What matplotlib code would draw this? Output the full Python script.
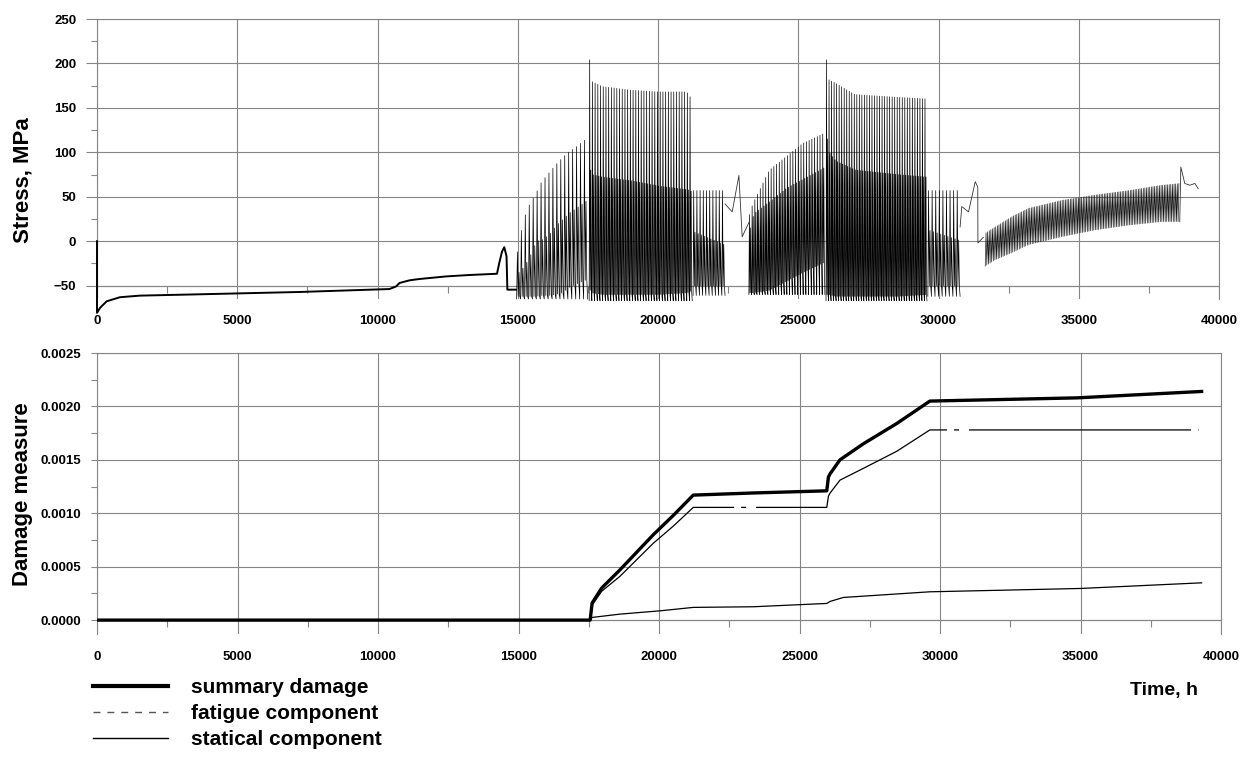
import numpy as np
import matplotlib
matplotlib.use("Agg")
import matplotlib.pyplot as plt
from matplotlib.lines import Line2D
from matplotlib.ticker import MultipleLocator, FormatStrFormatter

plt.rcParams['font.family'] = ['Liberation Sans', 'DejaVu Sans']
plt.rcParams['font.weight'] = 'bold'

# ---------------- stress history (time h, stress MPa) ----------------
# quiet part before the cycling starts
quiet_t = [0, 0, 107, 344, 819, 1530, 3666, 7225, 10428, 10665, 10784, 11140,
           11495, 12445, 13275, 14260, 14340, 14440, 14520, 14600, 14630, 14935]
quiet_s = [0, -80.6, -75, -67.6, -63, -61.2, -59.7, -57.1, -53.8, -50.8, -47, -44,
           -42.5, -39.6, -38, -36.6, -24.6, -11.6, -6.7, -17, -54.5, -54.5]

# cycling blocks, envelopes read at a few times inside each block
A_t = [14960, 15170, 15385, 15590, 15825, 16063, 16300, 16540, 16775, 17050, 17490]
A_peak = [-12, 24, 41, 52, 67, 76, 85, 93, 100, 106, 117]
A_minor = [-35, -28, -15, 0, 2, 8, 18, 25, 32, 38, 48]
A_low = [-62, -62, -62, -62, -61, -61, -60, -58, -52, -48, -42]

B_t = [17545, 17600, 18000, 19000, 20000, 21000, 21220]
B_peak = [204, 180, 174, 170, 168, 168, 158]
B_minor = [80, 75, 72, 68, 62, 58, 55]
B_low = [-55, -58, -60, -60, -60, -58, -55]

C_t = [21250, 22390]
C_peak = [57, 57]
C_minor = [10, -5]
C_low = [-50, -50]

D_t = [23240, 23360, 23950, 24545, 25140, 25950]
D_peak = [30, 42, 80, 95, 110, 122]
D_minor = [15, 31, 45, 60, 70, 84]
D_low = [-58, -58, -55, -45, -35, -23]

E_t = [25990, 26050, 26300, 27000, 28500, 29590]
E_peak = [204, 182, 178, 165, 162, 160]
E_minor = [115, 100, 90, 80, 75, 72]
E_low = [-60, -60, -62, -62, -62, -60]

F_t = [29620, 30770]
F_peak = [57, 57]
F_minor = [12, 0]
F_low = [-50, -50]

# deepest trough and number of start-stop cycles in blocks A..F
block_deep = [-65, -67, -61, -60, -67, -62]
block_cycles = [18, 38, 10, 28, 40, 9]

# last block: band between lower and upper envelope
G_t = [31665, 32020, 32610, 33205, 34390, 35580, 36765, 37950, 38600]
G_upper = [9, 16, 27.5, 37, 46, 52, 57, 63, 65]
G_lower = [-28, -21, -13, -4, 5, 12.6, 18, 22, 22]
G_cycles = 120

# shut-down transitions between blocks
CD_t = [22390, 22645, 22884, 23001, 23240]
CD_s = [42, 33, 74, 5, 21]
FG_t = [30770, 30830, 31070, 31310, 31400, 31405, 31600]
FG_s = [16, 39, 33, 67, 61, -2, 4.5]
tail_t = [38600, 38640, 38780, 38960, 39140, 39260]
tail_s = [22, 83.5, 65, 63, 65, 59]

# ---------------- damage (time h, damage measure) ----------------
sum_t = [0, 17550, 17620, 17960, 18610, 19800, 20510, 21220, 23360, 25970,
         26030, 26090, 26440, 27270, 28460, 29640, 34870, 39310]
sum_d = [0, 0, 0.00016, 0.0003, 0.00047, 0.0008, 0.00098, 0.00117, 0.00119,
         0.00121, 0.00134, 0.00137, 0.0015, 0.00165, 0.00184, 0.00205, 0.00208, 0.00214]

fat_t = [0, 17550, 17620, 17960, 18610, 19800, 20510, 21220, 25970, 26030,
         26090, 26440, 27270, 28460, 29640, 39200]
fat_d = [0, 0, 0.00014, 0.00027, 0.00041, 0.00072, 0.00088, 0.001055, 0.001055,
         0.00116, 0.00119, 0.00131, 0.00142, 0.00158, 0.00178, 0.00178]

stat_t = [0, 17550, 17620, 18610, 20040, 21220, 23360, 25970, 26090, 26560,
          29640, 34980, 39310]
stat_d = [0, 0, 0.000025, 0.000056, 0.000087, 0.000119, 0.000125, 0.000156,
          0.000175, 0.000212, 0.000265, 0.000296, 0.000349]


def build_block(knots, peak, minor, low, deep, n):
    # each cycle: deep trough -> peak -> partial unload -> small cycle -> down
    ts, ss = [], []
    edges = np.linspace(knots[0], knots[-1], n + 1)
    for a, b in zip(edges[:-1], edges[1:]):
        step = (b - a) / 5
        p = np.interp(a, knots, peak)
        m = np.interp(a, knots, minor)
        lo = np.interp(a, knots, low)
        ts += [a + k * step for k in range(5)]
        ss += [deep, p, lo, m, lo]
    ts.append(knots[-1])
    ss.append(deep)
    return ts, ss


def build_band(knots, upper, lower, n):
    ts, ss = [], []
    edges = np.linspace(knots[0], knots[-1], n + 1)
    for a, b in zip(edges[:-1], edges[1:]):
        ts += [a, (a + b) / 2]
        ss += [np.interp(a, knots, lower), np.interp((a + b) / 2, knots, upper)]
    return ts, ss


fig = plt.figure(figsize=(12.45, 7.62), dpi=100)
ax1 = fig.add_axes([97 / 1245, 1 - 299 / 762, 1122 / 1245, 280 / 762])
ax2 = fig.add_axes([97 / 1245, 1 - 634 / 762, 1124 / 1245, 281 / 762])

grid_col = '#858585'

# ---- top: stress
ax1.plot(quiet_t, quiet_s, color='black', lw=1.4, clip_on=False, zorder=3)
blocks = [(A_t, A_peak, A_minor, A_low), (B_t, B_peak, B_minor, B_low),
          (C_t, C_peak, C_minor, C_low), (D_t, D_peak, D_minor, D_low),
          (E_t, E_peak, E_minor, E_low), (F_t, F_peak, F_minor, F_low)]
for (kt, pk, mn, lo), deep, n in zip(blocks, block_deep, block_cycles):
    ts, ss = build_block(kt, pk, mn, lo, deep, n)
    ax1.plot(ts, ss, color='black', lw=0.5, clip_on=False, zorder=3)
gts, gss = build_band(G_t, G_upper, G_lower, G_cycles)
ax1.plot(gts, gss, color='#111111', lw=0.45, zorder=3)
for tt, sv in [(CD_t, CD_s), (FG_t, FG_s), (tail_t, tail_s)]:
    ax1.plot(tt, sv, color='#333333', lw=0.6, zorder=3)

ax1.set_xlim(0, 40000)
ax1.set_ylim(-65, 250)
ax1.yaxis.set_major_locator(MultipleLocator(50))
ax1.yaxis.set_minor_locator(MultipleLocator(25))
ax1.spines['bottom'].set_position(('data', -50))
ax1.set_ylabel('Stress, MPa', fontsize=16, fontweight='bold')
ax1.yaxis.set_label_coords(-0.057, 0.425)

# ---- bottom: damage
ax2.plot(stat_t, stat_d, color='black', lw=0.9, zorder=3)
ax2.plot(fat_t, fat_d, color='black', lw=0.9, zorder=3,
         linestyle=(15.8, (177.6, 5.6, 4, 8)))
ax2.plot(sum_t, sum_d, color='black', lw=2.4, zorder=4)

ax2.set_xlim(0, 40000)
ax2.set_ylim(-0.00013, 0.0025)
ax2.yaxis.set_major_locator(MultipleLocator(0.0005))
ax2.yaxis.set_minor_locator(MultipleLocator(0.00025))
ax2.yaxis.set_major_formatter(FormatStrFormatter('%.4f'))
ax2.spines['bottom'].set_position(('data', 0))
ax2.set_ylabel('Damage measure', fontsize=16, fontweight='bold')
ax2.yaxis.set_label_coords(-0.057, 0.498)

for ax in (ax1, ax2):
    ax.xaxis.set_major_locator(MultipleLocator(5000))
    ax.xaxis.set_minor_locator(MultipleLocator(2500))
    ax.grid(True, which='major', color=grid_col, lw=0.8)
    for sp in ax.spines.values():
        sp.set_color(grid_col)
        sp.set_linewidth(0.8)
    ax.tick_params(axis='both', which='both', colors=grid_col, labelcolor='black',
                   labelsize=9.5, width=0.8)
    ax.tick_params(axis='x', which='major', length=0)
    ax.tick_params(axis='x', which='minor', length=5, direction='out')
    ax.tick_params(axis='y', which='minor', length=4.5, direction='out')
    for lab in ax.get_xticklabels() + ax.get_yticklabels():
        lab.set_fontweight('bold')

ax1.tick_params(axis='x', which='major', pad=21)
ax1.tick_params(axis='y', which='major', length=8, pad=7)
ax2.tick_params(axis='x', which='major', pad=22)
ax2.tick_params(axis='y', which='major', length=4.5, pad=7)

# legend
handles = [Line2D([], [], color='black', lw=3),
           Line2D([], [], color='#555555', lw=1, dashes=(5, 5)),
           Line2D([], [], color='black', lw=1)]
labels = ['summary damage', 'fatigue component', 'statical component']
fig.legend(handles, labels, loc='upper left', bbox_to_anchor=(93 / 1245, 1 - 678 / 762),
           frameon=False, handlelength=3.6, handletextpad=1.1,
           labelspacing=0.34, borderpad=0, borderaxespad=0,
           prop={'weight': 'bold', 'size': 15})

fig.text(1198 / 1245, 1 - 690 / 762, 'Time, h', ha='right', va='center',
         fontsize=14, fontweight='bold')

fig.savefig('out.png', dpi=100)
